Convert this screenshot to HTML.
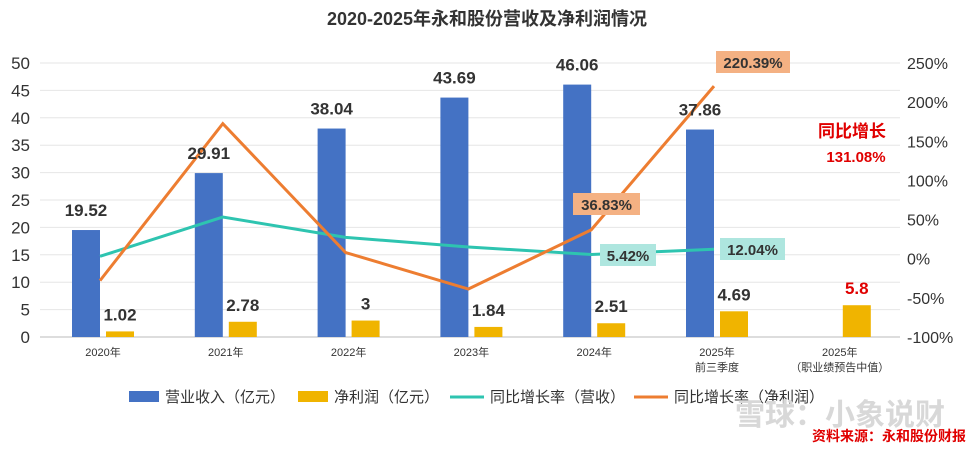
<!DOCTYPE html>
<html><head><meta charset="utf-8">
<style>
body{margin:0;background:#fff;}
svg{display:block;font-family:"Liberation Sans","Noto Sans CJK SC",sans-serif;}
</style></head>
<body>
<svg id="chart" width="975" height="449">
<text x="487" y="25" text-anchor="middle" font-size="18" font-weight="bold" fill="#333">2020-2025年永和股份营收及净利润情况</text>
<g id="grid"></g><g id="axes"></g><g id="bars"></g><g id="lines"></g><g id="labels"></g>
<g font-size="15" fill="#333">
<rect x="129" y="391" width="30" height="11" fill="#4472c4"/>
<text x="165" y="402">营业收入（亿元）</text>
<rect x="298" y="391" width="30" height="11" fill="#f0b400"/>
<text x="334" y="402">净利润（亿元）</text>
<line x1="450" y1="397" x2="484" y2="397" stroke="#2ec4b0" stroke-width="3"/>
<text x="490" y="402">同比增长率（营收）</text>
<line x1="634" y1="397" x2="668" y2="397" stroke="#ed7d31" stroke-width="3"/>
<text x="674" y="402">同比增长率（净利润）</text>
</g>
<text x="735" y="425" font-size="30" fill="#d8d8d8" font-weight="bold">雪球：小象说财</text>
<text x="966" y="441" text-anchor="end" font-size="14" font-weight="bold" fill="#e00000">资料来源：永和股份财报</text>
<text x="852" y="137" text-anchor="middle" font-size="17" font-weight="bold" fill="#e00000">同比增长</text>
<text x="856" y="162" text-anchor="middle" font-size="15" font-weight="bold" fill="#e00000">131.08%</text>
</svg>
<script>
const categories=["2020年","2021年","2022年","2023年","2024年","2025年\n前三季度","2025年\n（职业绩预告中值）"];
const revenue=[19.52,29.91,38.04,43.69,46.06,37.86,null];
const profit=[1.02,2.78,3,1.84,2.51,4.69,5.8];
const revGrowth=[3,53.2,27.2,14.9,5.42,12.04];
const profitGrowth=[-28,172.5,7.9,-38.7,36.83,220.39];
const leftTicks=[0,5,10,15,20,25,30,35,40,45,50];
const rightTicks=[-100,-50,0,50,100,150,200,250];
const NS="http://www.w3.org/2000/svg";
const yL=v=>337-v*5.48;
const yR=v=>337-(v+100)*0.783;
const xC=i=>103+i*122.8;
function mk(tag,attrs,parent,text){const e=document.createElementNS(NS,tag);for(const k in attrs)e.setAttribute(k,attrs[k]);if(text!=null)e.textContent=text;document.getElementById(parent).appendChild(e);return e;}
leftTicks.forEach(t=>{
 const g=mk('line',{x1:40,x2:900,y1:yL(t),y2:yL(t),stroke:t===0?'#bbb':'#e6e6e6','stroke-width':1},'grid');
 
 
 const l=mk('text',{x:30,y:yL(t)+6,'text-anchor':'end','font-size':17,fill:'#333'},'axes',t);
 
 
});
rightTicks.forEach(t=>{
 const l=mk('text',{x:907,y:yR(t)+6,'font-size':16,fill:'#333'},'axes',t+'%');
 
 
});
categories.forEach((c,i)=>{
 c.split('\n').forEach((s,j)=>{
  const l=mk('text',{x:xC(i),y:356+j*15,'text-anchor':'middle','font-size':11,fill:'#333'},'axes',s);
  
  
 });
 if(revenue[i]!=null){
  const b=mk('rect',{x:xC(i)-31,y:yL(revenue[i]),width:28,height:yL(0)-yL(revenue[i]),fill:'#4472c4'},'bars');
  
  
  const t=mk('text',{x:xC(i)-17,y:yL(revenue[i])-14,'text-anchor':'middle','font-size':17,'font-weight':'bold',fill:'#333'},'labels',revenue[i]);
  
  
 }
 const b2=mk('rect',{x:xC(i)+3,y:yL(profit[i]),width:28,height:yL(0)-yL(profit[i]),fill:'#f0b400'},'bars');
 
 
 const t2=mk('text',{x:xC(i)+17,y:yL(profit[i])-11,'text-anchor':'middle','font-size':17,'font-weight':'bold',fill:i===6?'#e00000':'#333'},'labels',profit[i]);
 
 
});
function line(arr,color,name){
 const pts=arr.map((v,i)=>(xC(i)-3)+','+yR(v)).join(' ');
 const p=mk('polyline',{points:pts,fill:'none',stroke:color,'stroke-width':3},'lines');
 
 
}
line(revGrowth,'#2ec4b0','revenue-growth-line');
line(profitGrowth,'#ed7d31','profit-growth-line');
function box(x,y,w,txt,fill,name){
 const r=mk('rect',{x:x,y:y,width:w,height:22,fill:fill},'labels');
 
 
 const t=mk('text',{x:x+w/2,y:y+17,'text-anchor':'middle','font-size':15,'font-weight':'bold',fill:'#333'},'labels',txt);
 
 
}
box(573,193,67,profitGrowth[4]+'%','#f4b183','profit-growth-2024-label');
box(716,51,74,profitGrowth[5]+'%','#f4b183','profit-growth-2025-label');
box(600,244,56,revGrowth[4]+'%','#aee6df','rev-growth-2024-label');
box(720,238,65,revGrowth[5]+'%','#aee6df','rev-growth-2025-label');
</script>
</body></html>
